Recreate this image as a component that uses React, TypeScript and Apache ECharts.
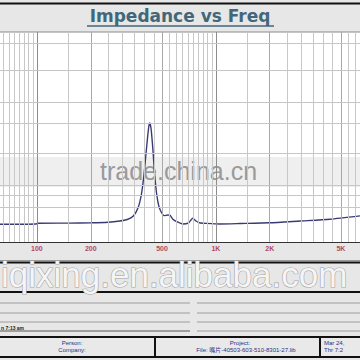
import React, { useEffect, useRef } from 'react';
import * as echarts from 'echarts';

// Impedance curve (Hz, ohm)
const freqHz = [62, 99, 101, 150, 200, 250, 290, 320, 345, 368, 384, 396, 405, 414, 422, 428, 435, 445, 455, 467, 480, 495, 515, 540, 555, 575, 604, 653, 705, 742, 775, 811, 889, 1054, 1370, 2000, 2950, 4340, 6390];
const impedanceOhm = [5.9, 6.0, 6.25, 6.3, 6.4, 6.6, 7.0, 7.5, 8.6, 11.5, 16, 22, 28, 34, 38.5, 39.7, 37.5, 30.7, 22.5, 16, 12, 10, 8.8, 9.0, 8.9, 7.6, 6.8, 6.0, 6.4, 7.9, 7.0, 6.4, 6.2, 6.0, 6.15, 6.4, 7.0, 7.6, 8.7];

// Grid lines
const gridFreqs = [65, 70, 75, 80, 85, 90, 95, 100, 150, 200, 250, 300, 350, 400, 450, 500, 550, 600, 650, 700, 750, 800, 850, 900, 950, 1000, 1500, 2000, 2500, 3000, 3500, 4000, 4500, 5000, 5500, 6000];
const majorFreqs = [100, 1000];
const tickFreqs = [100, 200, 500, 1000, 2000, 5000];
const tickLabels = ['100', '200', '500', '1K', '2K', '5K'];
const gridOhms = [11.7, 15.7, 19, 29.7, 39.7, 46.7, 57.3, 66.3];

const X_MIN = 62.2;
const X_MAX = 6390;
const Y_MIN = 0;
const Y_MAX = 70;

export default function App() {
  const ref = useRef<HTMLDivElement>(null);
  useEffect(() => {
    if (!ref.current) return;
    const chart = echarts.init(ref.current, null, { renderer: 'svg' });
    const curve = freqHz.map((f, i) => [f, impedanceOhm[i]]);

    const vLines = gridFreqs.map((f) => {
      const ti = tickFreqs.indexOf(f);
      const isMajor = majorFreqs.indexOf(f) >= 0;
      return {
        name: ti >= 0 ? tickLabels[ti] : '',
        xAxis: f,
        lineStyle: {
          color: isMajor ? '#8c8c8c' : ti >= 0 ? '#a8a8a8' : '#c8c8c8',
          width: 1,
          type: 'solid',
        },
        label: {
          show: ti >= 0,
          position: 'start',
          distance: 3,
          formatter: ti >= 0 ? tickLabels[ti] : '',
          color: '#b0485f',
          fontSize: 7,
          fontWeight: 'bold',
          fontFamily: 'Liberation Sans',
        },
      };
    });
    const hLines = gridOhms.map((v) => ({
      yAxis: v,
      lineStyle: { color: '#c6c6c6', width: 1, type: 'solid' },
      label: { show: false },
    }));

    const font = 'Liberation Sans';
    const thin = '#9c9c9c';
    const txtBlue = '#23338a';

    chart.setOption({
      animation: false,
      backgroundColor: '#e7e7e7',
      grid: {
        left: 0,
        right: 0,
        top: 32,
        bottom: 118,
        show: true,
        backgroundColor: '#ffffff',
        borderWidth: 0,
      },
      xAxis: {
        type: 'log',
        min: X_MIN,
        max: X_MAX,
        axisLine: { show: true, onZero: false, lineStyle: { color: '#333', width: 1 } },
        axisTick: { show: false },
        axisLabel: { show: false },
        splitLine: { show: false },
      },
      yAxis: {
        type: 'value',
        min: Y_MIN,
        max: Y_MAX,
        axisLine: { show: false },
        axisTick: { show: false },
        axisLabel: { show: false },
        splitLine: { show: false },
      },
      series: [
        {
          type: 'line',
          z: 1,
          data: curve,
          showSymbol: false,
          silent: true,
          lineStyle: { opacity: 0 },
          markLine: {
            silent: true,
            symbol: ['none', 'none'],
            animation: false,
            emphasis: { disabled: true },
            data: [...vLines, ...hLines],
          },
        },
        {
          type: 'line',
          z: 3,
          data: curve,
          showSymbol: false,
          smooth: 0.2,
          lineStyle: { color: '#3a3a72', width: 1.4 },
        },
      ],
      graphic: [
        { type: 'line', z: 5, shape: { x1: 0, y1: 3.5, x2: 360, y2: 3.5 }, style: { stroke: '#111', lineWidth: 2 } },
        {
          type: 'text', z: 5, x: 180, y: 24,
          style: { text: 'Impedance vs Freq', fill: '#42677a', font: 'bold 17px "DejaVu Sans"', textAlign: 'center', textVerticalAlign: 'bottom' },
        },
        { type: 'line', z: 5, shape: { x1: 87, y1: 26, x2: 274, y2: 26 }, style: { stroke: '#42677a', lineWidth: 1.5 } },
        { type: 'line', z: 5, shape: { x1: 0, y1: 32, x2: 360, y2: 32 }, style: { stroke: '#8a8a8a', lineWidth: 1 } },
        { type: 'rect', z: 2, shape: { x: 0, y: 157, width: 360, height: 30 }, style: { fill: 'rgba(236,236,236,0.82)' } },
        {
          type: 'text', z: 2, x: 100, y: 183,
          style: { text: 'trade.china.cn', fill: '#9a9a9a', font: `25px "${font}"`, textVerticalAlign: 'bottom' },
        },
        { type: 'line', z: 5, shape: { x1: 0, y1: 260.5, x2: 360, y2: 260.5 }, style: { stroke: '#9a9a9a', lineWidth: 1 } },
        { type: 'line', z: 5, shape: { x1: 0, y1: 262.5, x2: 360, y2: 262.5 }, style: { stroke: '#111', lineWidth: 2 } },
        { type: 'line', z: 5, shape: { x1: 0, y1: 292, x2: 360, y2: 292 }, style: { stroke: '#111', lineWidth: 2 } },
        {
          type: 'text', z: 6, x: 1, y: 292,
          style: { text: 'iqixing.en.alibaba.com', fill: '#f5f5f5', stroke: '#a4a4a4', lineWidth: 1.2, font: `35px "${font}"`, textVerticalAlign: 'bottom' },
        },
        { type: 'line', z: 5, shape: { x1: 0, y1: 303, x2: 190, y2: 303 }, style: { stroke: thin, lineWidth: 1 } },
        { type: 'line', z: 5, shape: { x1: 197, y1: 303, x2: 360, y2: 303 }, style: { stroke: thin, lineWidth: 1 } },
        { type: 'line', z: 5, shape: { x1: 0, y1: 313, x2: 190, y2: 313 }, style: { stroke: thin, lineWidth: 1 } },
        { type: 'line', z: 5, shape: { x1: 197, y1: 313, x2: 360, y2: 313 }, style: { stroke: thin, lineWidth: 1 } },
        { type: 'line', z: 5, shape: { x1: 0, y1: 322, x2: 190, y2: 322 }, style: { stroke: thin, lineWidth: 1 } },
        { type: 'line', z: 5, shape: { x1: 197, y1: 322, x2: 360, y2: 322 }, style: { stroke: thin, lineWidth: 1 } },
        { type: 'line', z: 5, shape: { x1: 0, y1: 331, x2: 190, y2: 331 }, style: { stroke: '#555', lineWidth: 1 } },
        { type: 'line', z: 5, shape: { x1: 197, y1: 331, x2: 360, y2: 331 }, style: { stroke: thin, lineWidth: 1 } },
        {
          type: 'text', z: 6, x: 1, y: 330,
          style: { text: 'n 7:13 am', fill: '#222', font: `bold 5px "${font}"`, textVerticalAlign: 'bottom' },
        },
        { type: 'rect', z: 5, shape: { x: -3, y: 337, width: 366, height: 20 }, style: { fill: '#e9e9e9', stroke: '#111', lineWidth: 2 } },
        { type: 'line', z: 6, shape: { x1: 155, y1: 337, x2: 155, y2: 357 }, style: { stroke: '#111', lineWidth: 2 } },
        { type: 'line', z: 6, shape: { x1: 320, y1: 337, x2: 320, y2: 357 }, style: { stroke: '#111', lineWidth: 2 } },
        { type: 'text', z: 6, x: 72, y: 343, style: { text: 'Person:', fill: txtBlue, font: `6px "${font}"`, textAlign: 'center', textVerticalAlign: 'middle' } },
        { type: 'text', z: 6, x: 72, y: 350, style: { text: 'Company:', fill: txtBlue, font: `6px "${font}"`, textAlign: 'center', textVerticalAlign: 'middle' } },
        { type: 'text', z: 6, x: 240, y: 343, style: { text: 'Project:', fill: txtBlue, font: `6px "${font}"`, textAlign: 'center', textVerticalAlign: 'middle' } },
        { type: 'text', z: 6, x: 246, y: 350, style: { text: 'File: 嘴片-40503-603-510-8301-27.lib', fill: txtBlue, font: `6px "${font}", "Noto Sans CJK SC"`, textAlign: 'center', textVerticalAlign: 'middle' } },
        { type: 'text', z: 6, x: 324, y: 343, style: { text: 'Mar 24,', fill: txtBlue, font: `6px "${font}"`, textVerticalAlign: 'middle' } },
        { type: 'text', z: 6, x: 324, y: 350, style: { text: 'Thr 7:2', fill: txtBlue, font: `6px "${font}"`, textVerticalAlign: 'middle' } },
      ],
    });
    return () => chart.dispose();
  }, []);
  return (
    <div
      ref={ref}
      style={{ position: 'fixed', left: 0, top: 0, width: 360, height: 360 }}
    />
  );
}
